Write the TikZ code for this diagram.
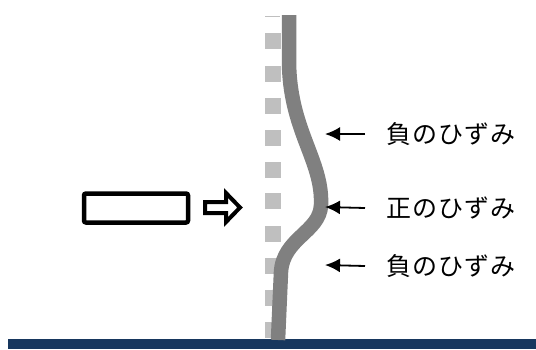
\documentclass[tikz,border=0pt]{standalone}
\usepackage{fontspec}
\newfontfamily\jpfont[LetterSpace=4]{Noto Sans CJK JP}
\usetikzlibrary{arrows.meta}
\definecolor{navy}{HTML}{17375E}
\definecolor{sq}{HTML}{BFBFBF}
\definecolor{barc}{HTML}{808080}
\tikzset{
  lbl/.style={anchor=west, inner sep=0pt, font=\jpfont\fontsize{25}{28}\selectfont},
  arr/.style={-{Latex[length=15pt,width=14pt]}, line width=1.8pt, black},
  square/.style={fill=sq, draw=none},
}
\begin{document}
\begin{tikzpicture}[x=1pt,y=-1pt]
\useasboundingbox (0,0) rectangle (536,349);
% ground
\fill[navy] (8,339) rectangle (536,349);
% dashed reference line (squares)
\draw[sq, line width=1pt] (265,16) -- (280,16);
\foreach \yy in {41,74,106,138,170,201,234,266,298,330}{
  \fill[square] (265,\yy-8) rectangle (281,\yy+8);
}
% deformed bar
\draw[barc, line width=14.5pt] (289,15) -- (289,60)
  .. controls (289,130) and (323,160) .. (321,205)
  .. controls (320,232) and (283,238) .. (281,272)
  -- (278,340);
% load box and block arrow
\node[draw, line width=4.5pt, rounded corners=2pt, minimum width=104pt, minimum height=29pt, inner sep=0pt] (box) at (136,208) {};
\draw[line width=4pt, line join=miter] (205,202) -- (226,202) -- (226,193) -- (240,207.5) -- (226,222) -- (226,213) -- (205,213) -- cycle;
% labels
\node[lbl] (n1) at (386,134) {負のひずみ};
\node[lbl] (p1) at (386,208) {正のひずみ};
\node[lbl] (n2) at (386,266) {負のひずみ};
\coordinate (t1) at (325,134);
\coordinate (t2) at (325,207);
\coordinate (t3) at (325,265);
\draw[arr] ([xshift=-21pt]n1.west) -- (t1);
\draw[arr] ([xshift=-21pt]p1.west) -- (t2);
\draw[arr] ([xshift=-21pt]n2.west) -- (t3);
\end{tikzpicture}
\end{document}
